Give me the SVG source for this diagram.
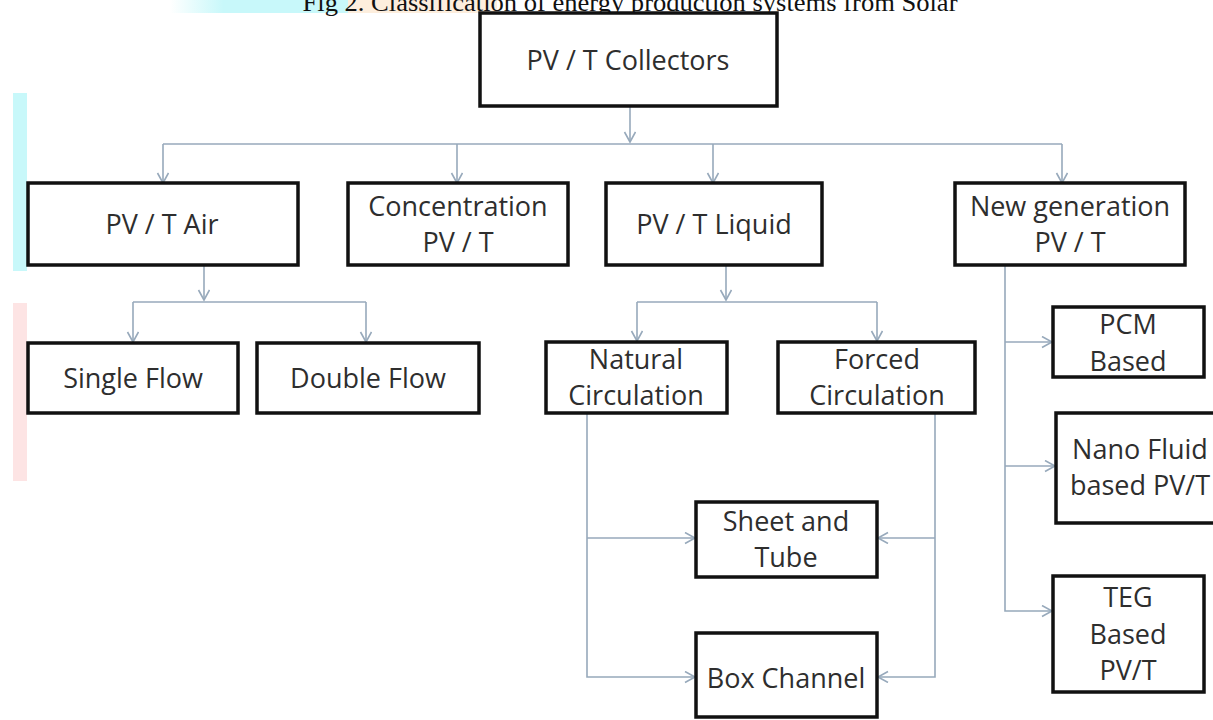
<svg xmlns="http://www.w3.org/2000/svg" width="1213" height="720" viewBox="0 0 1213 720">
<defs>
<style>
.box{fill:#fff;stroke:#111;stroke-width:3.5}
.lbl{font-family:"Open Sans","Noto Sans","Liberation Sans",sans-serif;font-size:27px;fill:#2e2e2e;text-anchor:middle}
.con{fill:none;stroke:#97a9bb;stroke-width:1.6}
.title{font-family:"Liberation Serif","Times New Roman",serif;font-size:26px;fill:#111;text-anchor:middle}
</style>
<marker id="arr" markerWidth="14" markerHeight="14" refX="11" refY="6" orient="auto" markerUnits="userSpaceOnUse">
<path d="M1,0.5 L11,6 L1,11.5" fill="none" stroke="#97a9bb" stroke-width="1.6"/>
</marker>
<linearGradient id="cy" x1="0" x2="1" y1="0" y2="0">
<stop offset="0" stop-color="#c8f8fa" stop-opacity="0"/>
<stop offset="0.3" stop-color="#c8f8fa"/>
<stop offset="1" stop-color="#c8f8fa"/>
</linearGradient>
</defs>
<rect width="1213" height="720" fill="#fff"/>
<g id="background">
<rect x="170" y="0" width="178" height="13" fill="url(#cy)"/>
<rect x="348" y="0" width="149" height="13" fill="#fdeedd"/>
<rect x="13" y="93" width="14" height="178" fill="#c8f8fa"/>
<rect x="13" y="303" width="14" height="178" fill="#fde4e4"/>
<text class="title" x="630" y="11" textLength="655" lengthAdjust="spacingAndGlyphs">Fig 2. Classification of energy production systems from Solar</text>
</g>
<g id="connectors">
<path class="con" d="M630,106 V142" marker-end="url(#arr)"/>
<path class="con" d="M163,144 H1062"/>
<path class="con" d="M163,144 V183" marker-end="url(#arr)"/>
<path class="con" d="M457,144 V183" marker-end="url(#arr)"/>
<path class="con" d="M713,144 V183" marker-end="url(#arr)"/>
<path class="con" d="M1062,144 V183" marker-end="url(#arr)"/>
<path class="con" d="M204,265 V300" marker-end="url(#arr)"/>
<path class="con" d="M133,302 H366"/>
<path class="con" d="M133,302 V342" marker-end="url(#arr)"/>
<path class="con" d="M366,302 V342" marker-end="url(#arr)"/>
<path class="con" d="M726,265 V300" marker-end="url(#arr)"/>
<path class="con" d="M637,302 H877"/>
<path class="con" d="M637,302 V341" marker-end="url(#arr)"/>
<path class="con" d="M877,302 V341" marker-end="url(#arr)"/>
<path class="con" d="M587,413 V677 H695" marker-end="url(#arr)"/>
<path class="con" d="M587,538 H695" marker-end="url(#arr)"/>
<path class="con" d="M935,413 V677 H878" marker-end="url(#arr)"/>
<path class="con" d="M935,538 H878" marker-end="url(#arr)"/>
<path class="con" d="M1005,265 V611 H1052" marker-end="url(#arr)"/>
<path class="con" d="M1005,342 H1052" marker-end="url(#arr)"/>
<path class="con" d="M1005,466 H1055" marker-end="url(#arr)"/>
</g>
<g id="pvt-collectors"><rect class="box" x="480" y="13" width="297" height="93"/><text class="lbl" x="628" y="70">PV / T Collectors</text></g>
<g id="pvt-air"><rect class="box" x="28" y="183" width="270" height="82"/><text class="lbl" x="162" y="234">PV / T Air</text></g>
<g id="concentration"><rect class="box" x="348" y="183" width="220" height="82"/><text class="lbl" x="458" y="216">Concentration</text><text class="lbl" x="458" y="252">PV / T</text></g>
<g id="pvt-liquid"><rect class="box" x="606" y="183" width="216" height="82"/><text class="lbl" x="714" y="234">PV / T Liquid</text></g>
<g id="new-generation"><rect class="box" x="955" y="183" width="230" height="82"/><text class="lbl" x="1070" y="216">New generation</text><text class="lbl" x="1070" y="252">PV / T</text></g>
<g id="single-flow"><rect class="box" x="28" y="343" width="210" height="70"/><text class="lbl" x="133" y="388">Single Flow</text></g>
<g id="double-flow"><rect class="box" x="257" y="343" width="222" height="70"/><text class="lbl" x="368" y="388">Double Flow</text></g>
<g id="natural-circulation"><rect class="box" x="546" y="342" width="181" height="71"/><text class="lbl" x="636" y="369">Natural</text><text class="lbl" x="636" y="405">Circulation</text></g>
<g id="forced-circulation"><rect class="box" x="778" y="342" width="197" height="71"/><text class="lbl" x="877" y="369">Forced</text><text class="lbl" x="877" y="405">Circulation</text></g>
<g id="sheet-and-tube"><rect class="box" x="696" y="502" width="181" height="75"/><text class="lbl" x="786" y="531">Sheet and</text><text class="lbl" x="786" y="567">Tube</text></g>
<g id="box-channel"><rect class="box" x="696" y="633" width="181" height="84"/><text class="lbl" x="786" y="688">Box Channel</text></g>
<g id="pcm-based"><rect class="box" x="1053" y="307" width="151" height="70"/><text class="lbl" x="1128" y="334">PCM</text><text class="lbl" x="1128" y="371">Based</text></g>
<g id="nano-fluid"><rect class="box" x="1056" y="413" width="162" height="110"/><text class="lbl" x="1140" y="459">Nano Fluid</text><text class="lbl" x="1140" y="495">based PV/T</text></g>
<g id="teg-based"><rect class="box" x="1053" y="576" width="151" height="116"/><text class="lbl" x="1128" y="607">TEG</text><text class="lbl" x="1128" y="644">Based</text><text class="lbl" x="1128" y="680">PV/T</text></g>
</svg>
